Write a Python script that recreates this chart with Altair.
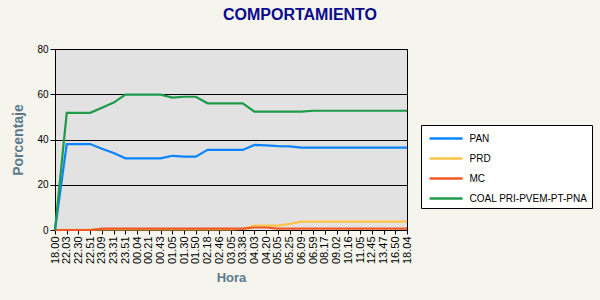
import altair as alt
import pandas as pd

hours = ["18.00","22.03","22.30","22.51","23.09","23.31","23.51","00.04","00.21","00.43",
         "01.05","01.30","01.50","02.18","02.46","03.05","03.38","04.03","04.20","05.05",
         "05.25","06.09","06.59","08.17","09.02","10.16","11.05","12.45","13.47","16.50","18.04"]

pan = [0, 38.0, 38.0, 38.0, 35.9, 34.0, 31.7, 31.7, 31.7, 31.7, 32.8, 32.4, 32.4, 35.4, 35.4,
       35.4, 35.4, 37.6, 37.4, 37.1, 37.0, 36.4, 36.4, 36.4, 36.4, 36.4, 36.4, 36.4, 36.4, 36.4, 36.4]
prd = [0, 0.1, 0.1, 0.1, 0.3, 0.3, 0.3, 0.3, 0.3, 0.3, 0.3, 0.3, 0.3, 0.3, 0.3,
       0.3, 0.5, 1.9, 1.9, 1.9, 2.7, 3.7, 3.7, 3.7, 3.7, 3.7, 3.7, 3.7, 3.7, 3.7, 3.7]
mc = [0, 0, 0, 0, 0.6, 0.6, 0.6, 0.6, 0.6, 0.6, 0.6, 0.6, 0.6, 0.6, 0.6,
      0.6, 0.6, 1.1, 1.1, 0.6, 0.6, 0.6, 0.6, 0.6, 0.6, 0.6, 0.6, 0.6, 0.6, 0.6, 0.6]
coal = [0, 51.8, 51.8, 51.8, 54.0, 56.3, 59.8, 59.8, 59.8, 59.8, 58.5, 58.9, 58.9, 56.0, 56.0,
        56.0, 56.0, 52.3, 52.3, 52.3, 52.3, 52.3, 52.7, 52.7, 52.7, 52.7, 52.7, 52.7, 52.7, 52.7, 52.7]

series = ["PAN", "PRD", "MC", "COAL PRI-PVEM-PT-PNA"]
colors = ["#0a84ff", "#ffc34a", "#f05a28", "#1f9a4a"]

rows = []
for name, vals in zip(series, [pan, prd, mc, coal]):
    for i, (h, v) in enumerate(zip(hours, vals)):
        rows.append({"Hora": h, "idx": i, "Serie": name, "Porcentaje": v})
df = pd.DataFrame(rows)

chart = alt.Chart(df).mark_line(strokeWidth=2.2, interpolate="linear").encode(
    x=alt.X("Hora:O", sort=hours, scale=alt.Scale(type="point", padding=0),
            axis=alt.Axis(title="Hora", labelAngle=270, labelFontSize=11, labelColor="#000000",
                          labelFont="Liberation Sans", tickColor="#000000", domainColor="#000000",
                          tickSize=4, labelPadding=2, grid=False,
                          titleFont="Liberation Sans", titleFontSize=13, titleFontWeight="bold",
                          titleColor="#5c7a8c", titlePadding=8)),
    y=alt.Y("Porcentaje:Q", scale=alt.Scale(domain=[0, 80]),
            axis=alt.Axis(title="Porcentaje", values=[0, 20, 40, 60, 80], labelFontSize=10,
                          labelFont="Liberation Sans", labelColor="#000000",
                          tickColor="#000000", domainColor="#000000", tickSize=5,
                          gridColor="#000000", gridWidth=1, gridOpacity=1,
                          titleFont="Liberation Sans", titleFontSize=14, titleFontWeight="bold",
                          titleColor="#5c7a8c", titlePadding=11)),
    color=alt.Color("Serie:N", sort=series,
                    scale=alt.Scale(domain=series, range=colors),
                    legend=alt.Legend(title=None, orient="none", legendX=366, legendY=76,
                                      symbolType="M-0.6,0H3.4", symbolSize=272, symbolStrokeWidth=2.5,
                                      labelFont="Liberation Sans", labelFontSize=10,
                                      labelColor="#000000", fillColor="#ffffff",
                                      strokeColor="#000000", padding=4, rowPadding=5,
                                      labelOffset=25.5)),
    order="idx:Q",
).properties(
    width=352, height=181,
    title=alt.TitleParams("COMPORTAMIENTO", font="Liberation Sans", fontSize=16,
                          fontWeight="bold", color="#0a0a8c", anchor="middle",
                          dx=69, offset=21),
    background="#f5f5ed",
    autosize=alt.AutoSizeParams(type="none"),
    padding={"left": 55, "top": 49, "right": 193, "bottom": 70},
).configure_view(
    fill="#e2e2e2", stroke="#000000", strokeWidth=1
)

chart.save("out.html", embed_options={"renderer": "svg", "actions": False})
